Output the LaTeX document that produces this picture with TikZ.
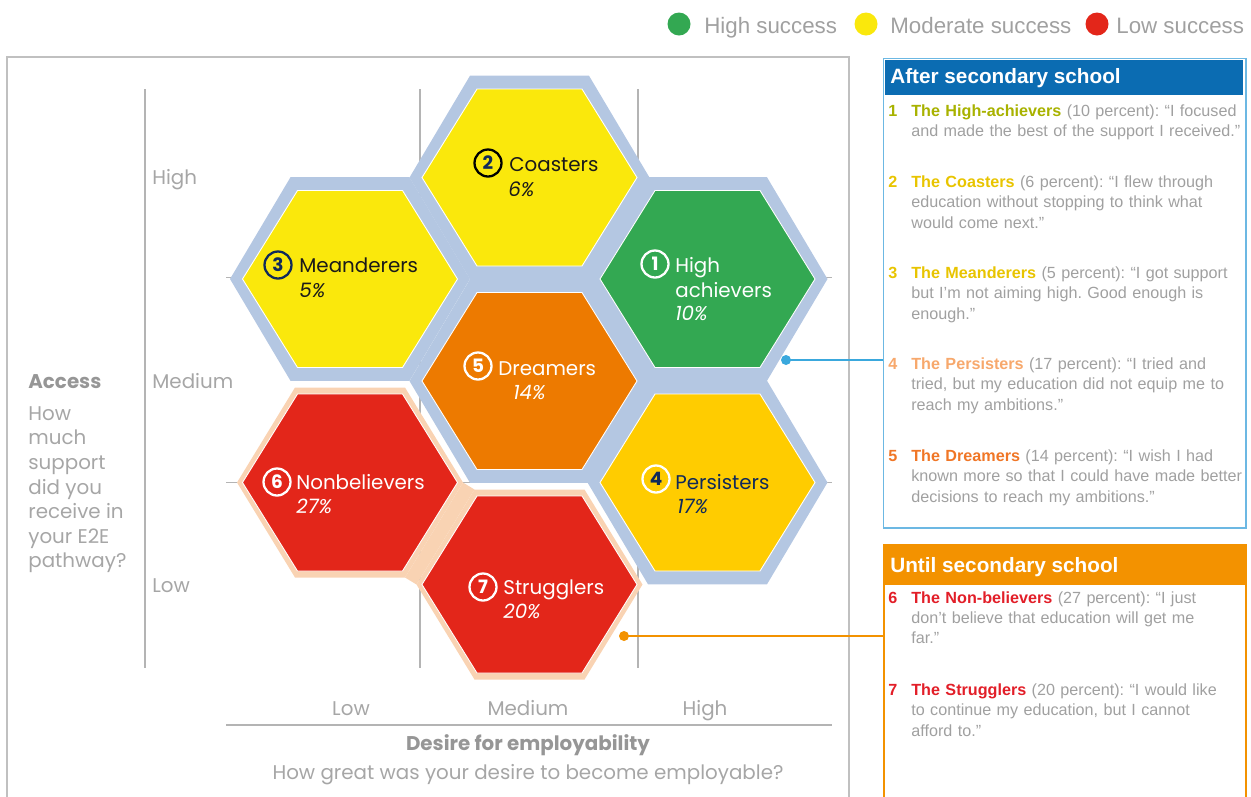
\documentclass[tikz,border=0pt]{standalone}
\usepackage{fontspec}
\setmainfont{Liberation Sans}
\newfontfamily\gothfont{Poppins}
\usepackage{tikz}
\usetikzlibrary{positioning}
\definecolor{hexgreen}{RGB}{51,168,82}
\definecolor{hexyellow}{RGB}{250,232,12}
\definecolor{hexgold}{RGB}{255,204,0}
\definecolor{hexorange}{RGB}{237,122,0}
\definecolor{hexred}{RGB}{227,38,26}
\definecolor{bandblue}{RGB}{180,199,226}
\definecolor{bandpeach}{RGB}{249,211,179}
\definecolor{axisgray}{RGB}{166,166,166}
\definecolor{boldgray}{RGB}{150,150,150}
\definecolor{linegray}{RGB}{180,180,180}
\definecolor{framegray}{RGB}{192,192,192}
\definecolor{navy}{RGB}{16,42,90}
\definecolor{darktext}{RGB}{26,26,26}
\definecolor{afterblue}{RGB}{11,108,178}
\definecolor{afteredge}{RGB}{108,184,227}
\definecolor{untilorange}{RGB}{243,146,0}
\definecolor{dotblue}{RGB}{58,168,221}
\definecolor{txtgray}{RGB}{160,160,160}
\definecolor{nmgreen}{RGB}{168,178,0}
\definecolor{nmyellow}{RGB}{232,196,0}
\definecolor{nmpeach}{RGB}{247,168,108}
\definecolor{nmorange}{RGB}{240,118,38}
\definecolor{nmred}{RGB}{226,30,40}
\newcommand{\hexpath}[3]{(#1,0) -- (#2,#3) -- (-#2,#3) -- (-#1,0) -- (-#2,-#3) -- (#2,-#3) -- cycle}
\frenchspacing

\begin{document}
\begin{tikzpicture}[
    x=0.02cm, y=-0.02cm,
    gridline/.style={draw=linegray, line width=0.6pt},
    innerhex/.style={draw=white, line width=0.5pt},
    ring/.style={circle, draw, line width=1.3pt, minimum size=0.54cm, inner sep=0pt,
                 font=\gothfont\bfseries\fontsize{10.5}{12}\selectfont},
    lbl/.style={anchor=base west, inner sep=0pt, font=\gothfont\fontsize{11.3}{14}\selectfont},
    pct/.style={lbl, font=\gothfont\itshape\fontsize{11.3}{14}\selectfont},
    axtext/.style={inner sep=0pt, text=axisgray, font=\gothfont\fontsize{11.3}{14}\selectfont},
    axbold/.style={axtext, text=boldgray, font=\gothfont\bfseries\fontsize{11.3}{14}\selectfont},
    legdot/.style={circle, inner sep=0pt, minimum size=0.46cm},
    legtext/.style={anchor=base west, inner sep=0pt, text=txtgray, font=\fontsize{12.7}{15}\selectfont},
    panel/.style={anchor=north west, inner sep=0pt, minimum width=7.25cm},
    headtext/.style={anchor=base west, inner sep=0pt, text=white, font=\bfseries\fontsize{11.8}{14}\selectfont},
    itemnum/.style={anchor=north west, inner sep=0pt, font=\bfseries\fontsize{9.2}{11.6}\selectfont},
    itemtext/.style={anchor=north west, inner sep=0pt, text width=7cm, align=left, text=txtgray,
                     font=\fontsize{9.2}{11.6}\selectfont},
    hookdot/.style={circle, inner sep=0pt, minimum size=0.2cm},
    hook/.style={line width=1.1pt}
  ]
    \useasboundingbox (0,0) rectangle (1251,796);
    \clip (0,0) rectangle (1251,796);

    % frame and grid
    \draw[framegray, line width=0.8pt] (7,57) rectangle (849,830);
    \draw[gridline] (145,89) -- (145,668);
    \draw[gridline] (420,89) -- (420,668);
    \draw[gridline] (638,89) -- (638,668);
    \draw[gridline] (226,277.5) -- (832,277.5);
    \draw[gridline] (226,482.5) -- (832,482.5);
    \draw[gridline, line width=1.1pt] (226,725) -- (832,725);

    % hexagon centres
    \coordinate (c1) at (707.5,279);
    \coordinate (c2) at (529.5,177.5);
    \coordinate (c3) at (350,279);
    \coordinate (c4) at (707.5,482.5);
    \coordinate (c5) at (529.5,381);
    \coordinate (c6) at (350,482.5);
    \coordinate (c7) at (529.5,584.5);

    \fill[bandblue, shift={(c1)}] \hexpath{120}{59.5}{101.8};
    \fill[bandblue, shift={(c2)}] \hexpath{120}{59.5}{101.8};
    \fill[bandblue, shift={(c3)}] \hexpath{120}{59.5}{101.8};
    \fill[bandblue, shift={(c4)}] \hexpath{120}{59.5}{101.8};
    \fill[bandblue, shift={(c5)}] \hexpath{120}{59.5}{101.8};
    \fill[bandpeach, shift={(c6)}] \hexpath{113}{55}{95};
    \fill[bandpeach, shift={(c7)}] \hexpath{113}{55}{95};
    \fill[bandpeach] (463,482.5) -- (405,577.5) -- (416.5,584.5) -- (474.5,489.5) -- cycle;

    \filldraw[innerhex, fill=hexgreen, shift={(c1)}] \hexpath{107.5}{52.5}{88.5};
    \filldraw[innerhex, fill=hexyellow, shift={(c2)}] \hexpath{107.5}{52.5}{88.5};
    \filldraw[innerhex, fill=hexyellow, shift={(c3)}] \hexpath{107.5}{52.5}{88.5};
    \filldraw[innerhex, fill=hexgold, shift={(c4)}] \hexpath{107.5}{52.5}{88.5};
    \filldraw[innerhex, fill=hexorange, shift={(c5)}] \hexpath{107.5}{52.5}{88.5};
    \filldraw[innerhex, fill=hexred, shift={(c6)}] \hexpath{107.5}{52.5}{88.5};
    \filldraw[innerhex, fill=hexred, shift={(c7)}] \hexpath{107.5}{52.5}{88.5};

    % hexagon labels
    \node[ring, draw=white, text=white] (n1) at (655,264) {1};
    \node[lbl, text=white] (t1) at (675,272) {High};
    \node[lbl, text=white] (t1b) at (675,297) {achievers};
    \node[pct, text=white] (p1) at (675,320) {10\%};

    \node[ring, draw=black, text=navy] (n2) at (488,163) {2};
    \node[lbl, text=darktext] (t2) at (509,171) {Coasters};
    \node[pct, text=darktext] (p2) at (508,196) {6\%};

    \node[ring, draw=navy, text=navy] (n3) at (278,265) {3};
    \node[lbl, text=darktext] (t3) at (299,272) {Meanderers};
    \node[pct, text=darktext] (p3) at (299,297) {5\%};

    \node[ring, draw=white, text=navy] (n4) at (656,479) {4};
    \node[lbl, text=navy] (t4) at (675,489) {Persisters};
    \node[pct, text=navy] (p4) at (677,513) {17\%};

    \node[ring, draw=white, text=white] (n5) at (478,366) {5};
    \node[lbl, text=white] (t5) at (498,375) {Dreamers};
    \node[pct, text=white] (p5) at (513,399) {14\%};

    \node[ring, draw=white, text=white] (n6) at (277,482) {6};
    \node[lbl, text=white] (t6) at (296,489) {Nonbelievers};
    \node[pct, text=white] (p6) at (296,513) {27\%};

    \node[ring, draw=white, text=white] (n7) at (483,587) {7};
    \node[lbl, text=white] (t7) at (503,594) {Strugglers};
    \node[pct, text=white] (p7) at (503,618) {20\%};

    % axes
    \node[axtext, anchor=base west] (yhigh) at (152,184) {High};
    \node[axtext, anchor=base west] (ymed) at (152,388) {Medium};
    \node[axtext, anchor=base west] (ylow) at (152,592) {Low};
    \node[axbold, anchor=base west] (access) at (28,388) {Access};
    \node[axtext, anchor=north west, align=left] (accessq) at (28,402.7)
      {\strut How\\much\\support\\did you\\receive in\\your E2E\\pathway?};

    \node[axtext, anchor=base] (xlow) at (351,715) {Low};
    \node[axtext, anchor=base] (xmed) at (528,715) {Medium};
    \node[axtext, anchor=base] (xhigh) at (705,715) {High};
    \node[axbold, anchor=base] (desire) at (528,750) {Desire for employability};
    \node[axtext, anchor=base] (desireq) at (528,779) {How great was your desire to become employable?};

    % legend
    \node[legdot, fill=hexgreen] (lg1) at (679,24) {};
    \node[legtext] (lt1) at (704,33) {High success};
    \node[legdot, fill=hexyellow] (lg2) at (866,24) {};
    \node[legtext] (lt2) at (890,33) {Moderate success};
    \node[legdot, fill=hexred] (lg3) at (1097,24) {};
    \node[legtext] (lt3) at (1116,33) {Low success};

    % after secondary school panel
    \node[panel, draw=afteredge, line width=0.9pt, minimum height=9.39cm] (after) at (882.5,57.5) {};
    \node[panel, fill=afterblue, minimum width=7.17cm, minimum height=0.7cm] (afterhead) at (884.5,59.5) {};
    \node[headtext] (aftertitle) at (890,83.5) {After secondary school};

    \node[itemnum, text=nmgreen] (num1) at (888,101.7) {\strut 1};
    \node[itemtext] (item1) at (911,101.7)
      {\strut{\bfseries\color{nmgreen}The High-achievers} (10 percent): “I focused\\
       and made the best of the support I received.”};
    \node[itemnum, text=nmyellow] (num2) at (888,172.7) {\strut 2};
    \node[itemtext] (item2) at (911,172.7)
      {\strut{\bfseries\color{nmyellow}The Coasters} (6 percent): “I flew through\\
       education without stopping to think what\\would come next.”};
    \node[itemnum, text=nmyellow] (num3) at (888,263.7) {\strut 3};
    \node[itemtext] (item3) at (911,263.7)
      {\strut{\bfseries\color{nmyellow}The Meanderers} (5 percent): “I got support\\
       but I’m not aiming high. Good enough is\\enough.”};
    \node[itemnum, text=nmpeach] (num4) at (888,354.7) {\strut 4};
    \node[itemtext] (item4) at (911,354.7)
      {\strut{\bfseries\color{nmpeach}The Persisters} (17 percent): “I tried and\\
       tried, but my education did not equip me to\\reach my ambitions.”};
    \node[itemnum, text=nmorange] (num5) at (888,446.7) {\strut 5};
    \node[itemtext] (item5) at (911,446.7)
      {\strut{\bfseries\color{nmorange}The Dreamers} (14 percent): “I wish I had\\
       known more so that I could have made better\\decisions to reach my ambitions.”};

    % until secondary school panel
    \node[panel, draw=untilorange, line width=1.2pt, minimum height=6cm] (until) at (882.5,543.5) {};
    \node[panel, fill=untilorange, minimum height=0.82cm] (untilhead) at (882.5,543.5) {};
    \node[headtext] (untiltitle) at (890,572) {Until secondary school};

    \node[itemnum, text=nmred] (num6) at (888,588.4) {\strut 6};
    \node[itemtext] (item6) at (911,588.4)
      {\strut{\bfseries\color{nmred}The Non-believers} (27 percent): “I just\\
       don’t believe that education will get me\\far.”};
    \node[itemnum, text=nmred] (num7) at (888,680.7) {\strut 7};
    \node[itemtext] (item7) at (911,680.7)
      {\strut{\bfseries\color{nmred}The Strugglers} (20 percent): “I would like\\
       to continue my education, but I cannot\\afford to.”};

    % connectors
    \node[hookdot, fill=dotblue] (hk1) at (786,360) {};
    \draw[hook, dotblue] (hk1.center) -- (hk1 -| after.west);
    \node[hookdot, fill=untilorange] (hk2) at (624,636) {};
    \draw[hook, untilorange] (hk2.center) -- (hk2 -| until.west);
  \end{tikzpicture}
\end{document}
